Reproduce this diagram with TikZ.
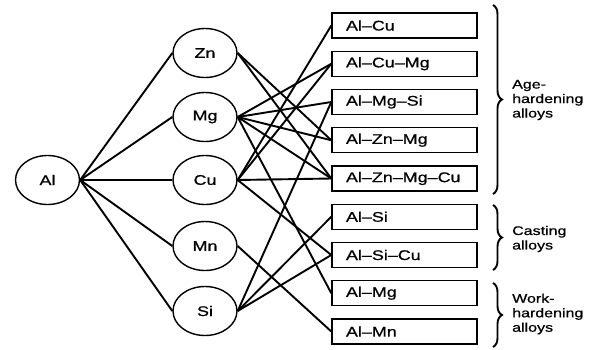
\documentclass[tikz,border=0pt]{standalone}
\usepackage{fontspec}
\setmainfont[FakeStretch=1.28,FakeBold=0.7]{Liberation Sans}
\usetikzlibrary{shapes.geometric,decorations.pathreplacing}
\begin{document}
\begin{tikzpicture}[x=1pt,y=-1pt,
  elem/.style={draw,ellipse,line width=1.4pt,minimum width=64pt,minimum height=49pt,inner sep=0pt,font=\fontsize{14}{16}\selectfont},
  alloy/.style={draw,rectangle,line width=1.4pt,minimum height=25pt,text width=117pt,inner xsep=14pt,inner ysep=0pt,align=left,font=\fontsize{14}{16}\selectfont},
  conn/.style={line width=1.9pt},
  grpbrace/.style={line width=1.9pt,decorate,decoration={brace,amplitude=9pt}},
  grplabel/.style={anchor=west,align=left,inner sep=0pt,font=\fontsize{12.5}{14.5}\selectfont}]
\useasboundingbox (0,0) rectangle (605,349);
\node[elem] (al) at (47.5,180) {Al};
\node[elem] (zn) at (205,53) {Zn};
\node[elem] (mg) at (205,117) {Mg};
\node[elem] (cu) at (205,180) {Cu};
\node[elem] (mn) at (205,246) {Mn};
\node[elem] (si) at (205,311) {Si};
\node[alloy] (alcu) at (404.5,25.5) {Al--Cu};
\node[alloy] (alcumg) at (404.5,63.75) {Al--Cu--Mg};
\node[alloy] (almgsi) at (404.5,102) {Al--Mg--Si};
\node[alloy] (alznmg) at (404.5,140.25) {Al--Zn--Mg};
\node[alloy] (alznmgcu) at (404.5,178.5) {Al--Zn--Mg--Cu};
\node[alloy] (alsi) at (404.5,216.75) {Al--Si};
\node[alloy] (alsicu) at (404.5,255) {Al--Si--Cu};
\node[alloy] (almg) at (404.5,293.25) {Al--Mg};
\node[alloy] (almn) at (404.5,331.5) {Al--Mn};
\foreach \e in {zn,mg,cu,mn,si} \draw[conn] (al.east) -- (\e.west);
\foreach \a in {alznmg,alznmgcu} \draw[conn] (zn.east) -- (\a.west);
\foreach \a in {alcumg,almgsi,alznmg,alznmgcu,almg} \draw[conn] (mg.east) -- (\a.west);
\foreach \a in {alcu,alcumg,alznmgcu,alsicu} \draw[conn] (cu.east) -- (\a.west);
\draw[conn] (mn.east) -- (almn.west);
\foreach \a in {almgsi,alsi,alsicu} \draw[conn] (si.east) -- (\a.west);
\coordinate (b1t) at (493,5); \coordinate (b1b) at (493,194);
\coordinate (b2t) at (493,205); \coordinate (b2b) at (493,270);
\coordinate (b3t) at (493,283); \coordinate (b3b) at (493,347);
\draw[grpbrace] (b1t) -- (b1b);
\draw[grpbrace] (b2t) -- (b2b);
\draw[grpbrace] (b3t) -- (b3b);
\node[grplabel] (age) at (512,100) {Age-\\hardening\\alloys};
\node[grplabel] (cast) at (512,239) {Casting\\alloys};
\node[grplabel] (work) at (512,314) {Work-\\hardening\\alloys};
\end{tikzpicture}
\end{document}
